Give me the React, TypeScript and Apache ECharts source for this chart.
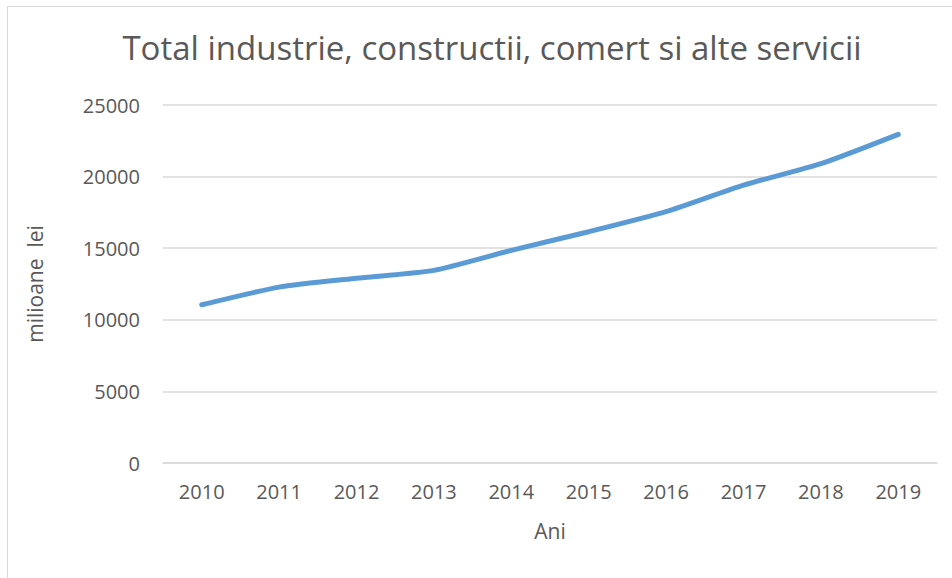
import React, { useEffect, useRef } from "react";
import * as echarts from "echarts";

const categories = ["2010", "2011", "2012", "2013", "2014", "2015", "2016", "2017", "2018", "2019"];
const values = [11050, 12280, 12900, 13450, 14850, 16150, 17550, 19400, 20900, 22950];
const titleText = "Total industrie, constructii, comert si alte servicii";
const yAxisName = "milioane  lei";
const xAxisName = "Ani";

export default function App() {
  const ref = useRef<HTMLDivElement>(null);
  useEffect(() => {
    if (!ref.current) return;
    const chart = echarts.init(ref.current, undefined, { renderer: "svg" });
    const font = "Open Sans, Liberation Sans, sans-serif";
    chart.setOption({
      animation: false,
      backgroundColor: "#ffffff",
      textStyle: { fontFamily: font },
      title: {
        text: titleText,
        left: 487,
        textAlign: "center",
        top: 26,
        textStyle: { fontSize: 33, fontWeight: "normal", color: "#595959", fontFamily: font },
      },
      graphic: [
        {
          type: "rect",
          shape: { x: 7.5, y: 6.5, width: 960, height: 600 },
          style: { fill: "none", stroke: "#d9d9d9", lineWidth: 1 },
          silent: true,
        },
      ],
      grid: { left: 163, right: 15, top: 105, bottom: 115, containLabel: false },
      xAxis: {
        type: "category",
        data: categories,
        boundaryGap: true,
        name: xAxisName,
        nameLocation: "middle",
        nameGap: 57,
        nameTextStyle: { fontSize: 21, color: "#595959", fontFamily: font },
        axisLine: { show: true, lineStyle: { color: "#d9d9d9", width: 1.5 } },
        axisTick: { show: false },
        axisLabel: { fontSize: 20, color: "#595959", margin: 18, fontFamily: font },
      },
      yAxis: {
        type: "value",
        min: 0,
        max: 25000,
        interval: 5000,
        name: yAxisName,
        nameLocation: "middle",
        nameGap: 118,
        nameRotate: 90,
        nameTextStyle: { fontSize: 21, color: "#595959", fontFamily: font },
        axisLine: { show: false },
        axisTick: { show: false },
        axisLabel: {
          fontSize: 20,
          color: "#595959",
          margin: 23,
          fontFamily: font,
          formatter: (v: number) => String(v),
        },
        splitLine: { lineStyle: { color: "#d9d9d9", width: 1.5 } },
      },
      series: [
        {
          type: "line",
          data: values,
          smooth: 0.2,
          showSymbol: false,
          symbol: "none",
          lineStyle: { color: "#5B9BD5", width: 5, cap: "round" },
          itemStyle: { color: "#5B9BD5" },
        },
      ],
    });
    return () => chart.dispose();
  }, []);
  return (
    <div
      ref={ref}
      style={{ position: "fixed", left: 0, top: 0, width: 952, height: 578 }}
    />
  );
}
